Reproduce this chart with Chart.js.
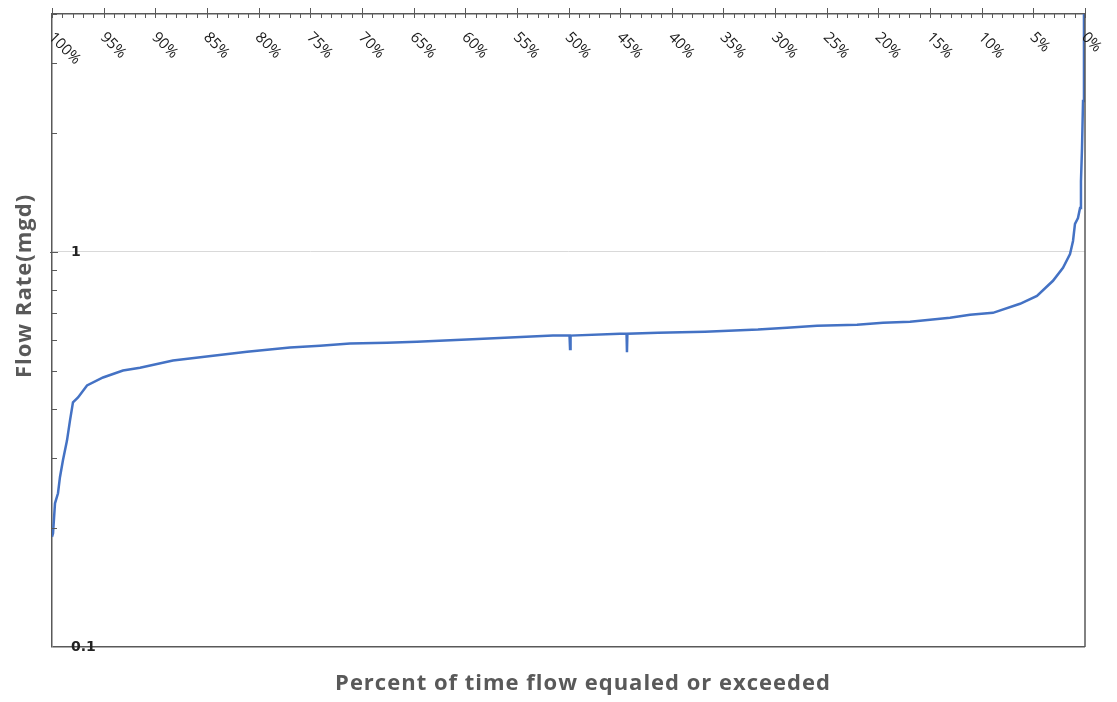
<!DOCTYPE html>
<html>
<head>
<meta charset="utf-8">
<script src="https://cdn.jsdelivr.net/npm/chart.js@4"></script>
<style>
  html, body { margin: 0; padding: 0; background: #fff; }
  canvas { display: block; }
</style>
</head>
<body>
<canvas id="fdc" width="1117" height="702"></canvas>
<script>
// ==== data ====
// percent of time the flow is equaled or exceeded
const pctExceeded = [100, 99.9, 99.71, 99.42, 99.23, 98.94, 98.55, 98.26, 97.97, 97.48, 96.61,
  95.06, 93.13, 91.48, 88.29, 84.41, 81.12, 76.96, 74.06, 71.15, 67.57, 64.67, 59.83, 55.66,
  51.5, 49.9, 49.85, 49.8, 45.01, 44.38, 44.34, 44.3, 41.34, 36.79, 31.66, 28.85, 25.94, 22.07,
  19.55, 16.94, 15.0, 13.07, 11.13, 8.91, 6.29, 4.65, 3.1, 2.13, 1.45, 1.16, 0.97, 0.68, 0.48,
  0.39, 0.29, 0.19, 0.1, 0];
// flow rate, mgd
const flowMgd = [0.19, 0.194, 0.231, 0.245, 0.269, 0.297, 0.333, 0.374, 0.416, 0.428, 0.459,
  0.481, 0.501, 0.509, 0.531, 0.546, 0.559, 0.573, 0.579, 0.586, 0.589, 0.592, 0.600, 0.607,
  0.614, 0.614, 0.568, 0.614, 0.621, 0.621, 0.557, 0.621, 0.624, 0.628, 0.636, 0.643, 0.650, 0.654,
  0.662, 0.666, 0.673, 0.681, 0.693, 0.701, 0.739, 0.774, 0.845, 0.911, 0.988, 1.066, 1.177, 1.218, 1.291,
  1.51, 1.83, 2.41, 4.06, 5.0];

const xTickValues = [100, 95, 90, 85, 80, 75, 70, 65, 60, 55, 50, 45, 40, 35, 30, 25, 20, 15, 10, 5, 0];
const yLabelValues = [1, 0.1];
const yMinorValues = [0.2, 0.3, 0.4, 0.5, 0.6, 0.7, 0.8, 0.9, 2, 3, 4];

const xTitle = 'Percent of time flow equaled or exceeded';
const yTitle = 'Flow Rate(mgd)';

const AXIS = '#595959';
const LINE = '#4472C4';

// ticks, labels, right frame and titles drawn inside the plot like the original
const decorPlugin = {
  id: 'decor',
  afterDraw(chart) {
    const { ctx, chartArea, scales } = chart;
    const xs = scales.x, ys = scales.y;
    ctx.save();
    ctx.strokeStyle = AXIS;

    // right frame line
    ctx.lineWidth = 1.5;
    ctx.beginPath();
    ctx.moveTo(chartArea.right, chartArea.top);
    ctx.lineTo(chartArea.right, chartArea.bottom);
    ctx.stroke();
    ctx.lineWidth = 1;

    // top axis ticks, every 1%
    for (let p = 0; p <= 100; p++) {
      const x = Math.round(xs.getPixelForValue(p)) + 0.5;
      const major = p % 5 === 0;
      ctx.beginPath();
      ctx.moveTo(x, major ? chartArea.top - 6 : chartArea.top);
      ctx.lineTo(x, chartArea.top + 4);
      ctx.stroke();
    }

    // left axis ticks
    yMinorValues.concat([1]).forEach(v => {
      const y = Math.round(ys.getPixelForValue(v)) + 0.5;
      ctx.beginPath();
      ctx.moveTo(chartArea.left - (v === 1 ? 2 : 0), y);
      ctx.lineTo(chartArea.left + (v === 1 ? 6 : 5), y);
      ctx.stroke();
    });

    // rotated percent labels
    ctx.fillStyle = '#1a1a1a';
    ctx.font = '15px "Open Sans"';
    ctx.textAlign = 'left';
    ctx.textBaseline = 'middle';
    xTickValues.forEach(p => {
      const x = xs.getPixelForValue(p);
      ctx.save();
      ctx.translate(x - 1, chartArea.top + 21);
      ctx.rotate(Math.PI / 4);
      ctx.fillText(p + '%', 0, 0);
      ctx.restore();
    });

    // y labels (inside plot)
    ctx.fillStyle = '#222';
    ctx.font = 'bold 14px "DejaVu Sans"';
    yLabelValues.forEach(v => {
      ctx.fillText(String(v), chartArea.left + 19, ys.getPixelForValue(v));
    });

    // axis titles
    ctx.fillStyle = AXIS;
    ctx.font = 'bold 22px "Open Sans"';
    ctx.letterSpacing = '1px';
    ctx.textAlign = 'center';
    ctx.fillText(xTitle, 583, 684);
    ctx.save();
    ctx.translate(25, 286);
    ctx.rotate(-Math.PI / 2);
    ctx.fillText(yTitle, 0, 0);
    ctx.restore();

    ctx.restore();
  }
};

const points = pctExceeded.map((p, i) => ({ x: p, y: flowMgd[i] }));

new Chart(document.getElementById('fdc'), {
  type: 'line',
  data: {
    datasets: [{
      data: points,
      borderColor: LINE,
      borderWidth: 2.5,
      pointRadius: 0,
      tension: 0
    }]
  },
  options: {
    responsive: false,
    animation: false,
    devicePixelRatio: 1,
    layout: { padding: { left: 52, top: 6, right: 32, bottom: 55 } },
    plugins: { legend: { display: false }, tooltip: { enabled: false } },
    scales: {
      x: {
        type: 'linear',
        position: 'top',
        min: 0,
        max: 100,
        reverse: true,
        ticks: { display: false },
        grid: { display: false },
        border: { color: AXIS, width: 1.5 }
      },
      y: {
        type: 'logarithmic',
        min: 0.1,
        max: 4,
        ticks: { display: false },
        grid: {
          drawTicks: false,
          color: c => c.tick && c.tick.value === 1 ? '#d9d9d9' : (c.tick && c.tick.value === 0.1 ? AXIS : 'rgba(0,0,0,0)'),
          lineWidth: c => c.tick && c.tick.value === 0.1 ? 1.5 : 1
        },
        border: { color: AXIS, width: 1.5 }
      }
    }
  },
  plugins: [decorPlugin]
});
</script>
</body>
</html>
